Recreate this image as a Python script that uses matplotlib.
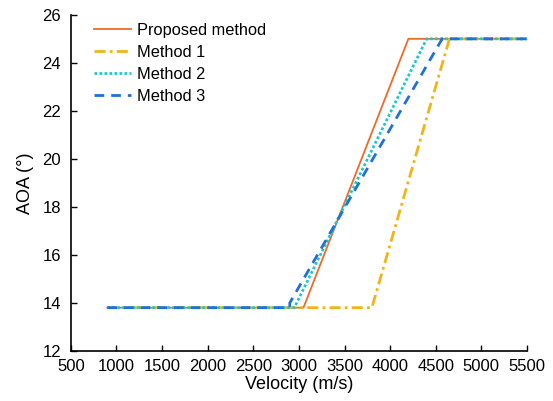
import matplotlib
matplotlib.use("Agg")
import matplotlib.pyplot as plt

plt.rcParams['font.family'] = ['Liberation Sans', 'DejaVu Sans']

# Breakpoints of the AOA schedules (velocity m/s, AOA deg)
proposed_v = [900, 3050, 4200, 5500]
proposed_a = [13.8, 13.8, 25.0, 25.0]

method1_v = [900, 3800, 4650, 5500]
method1_a = [13.8, 13.8, 25.0, 25.0]

method2_v = [900, 2950, 4400, 5500]
method2_a = [13.8, 13.8, 25.0, 25.0]

method3_v = [900, 2900, 2900, 4570, 5500]
method3_a = [13.8, 13.8, 14.0, 25.0, 25.0]

xticks = [500, 1000, 1500, 2000, 2500, 3000, 3500, 4000, 4500, 5000, 5500]
yticks = [12, 14, 16, 18, 20, 22, 24, 26]

fig = plt.figure(figsize=(5.53, 4.01), dpi=100)
ax = fig.add_axes([0.128, 0.125, 0.825, 0.838])

ax.plot(proposed_v, proposed_a, color='#EE6A2A', lw=1.3, label='Proposed method')
ax.plot(method1_v, method1_a, color='#F2B415', lw=2.0, ls=(0, (4, 1.5, 1, 1.5)), label='Method 1')
ax.plot(method2_v, method2_a, color='#1CC8CC', lw=2.0, ls=(0, (1, 0.8)), label='Method 2')
ax.plot(method3_v, method3_a, color='#2070D8', lw=2.0, ls=(0, (3.5, 2.5)), label='Method 3')

ax.set_xlim(500, 5500)
ax.set_ylim(12, 26)
ax.set_xticks(xticks)
ax.set_yticks(yticks)
ax.tick_params(direction='in', labelsize=12, length=4, width=1)
ax.tick_params(axis='x', pad=6)
ax.tick_params(axis='y', pad=7)
for s in ('top', 'right'):
    ax.spines[s].set_visible(False)
for s in ('left', 'bottom'):
    ax.spines[s].set_linewidth(1.2)

ax.set_xlabel('Velocity (m/s)', fontsize=13, labelpad=1)
ax.set_ylabel('AOA (°)', fontsize=13, labelpad=6)

ax.legend(loc='upper left', frameon=False, fontsize=11.8, handlelength=2.3,
          handletextpad=0.35, labelspacing=0.42, borderaxespad=0.3,
          bbox_to_anchor=(0.025, 1.01))

fig.savefig('out.png', dpi=100)
